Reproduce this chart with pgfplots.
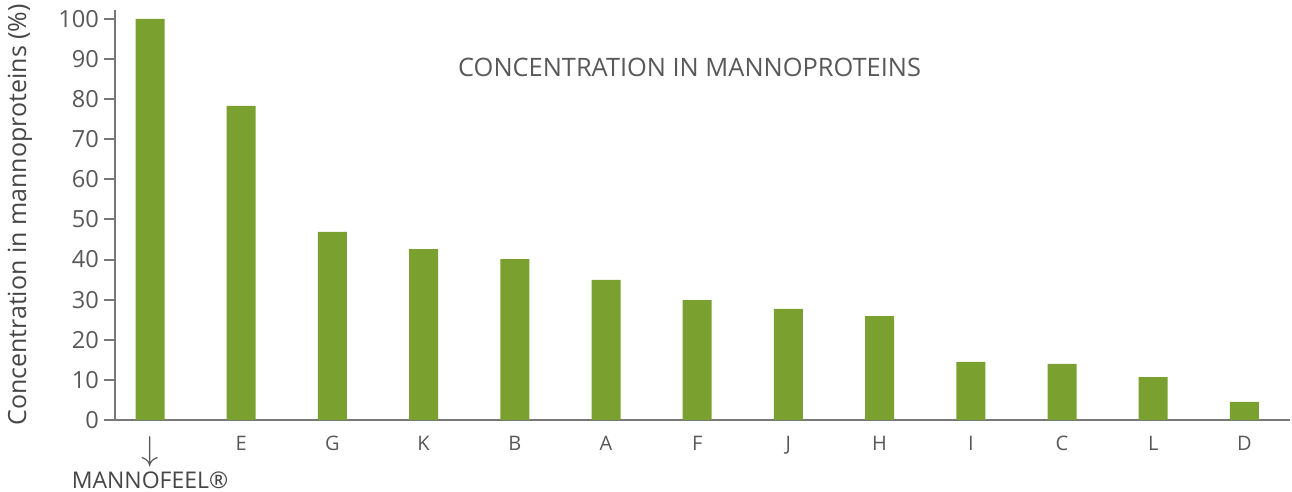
\documentclass[border=0pt]{standalone}
\usepackage{pgfplots}
\pgfplotsset{compat=1.18}
\usepackage{fontspec}
\setmainfont{Open Sans}
\definecolor{bargreen}{RGB}{122,161,47}
\definecolor{txtgray}{RGB}{88,88,88}
\definecolor{darkgray}{RGB}{70,70,70}
\definecolor{axgray}{RGB}{120,120,120}
\begin{document}
\begin{tikzpicture}
\begin{axis}[
  scale only axis,
  width=587.5pt, height=205pt,
  xmin=-0.384, xmax=12.5,
  ymin=0, ymax=102.2,
  axis x line=bottom, axis y line=left,
  axis line style={axgray, line width=1pt, -},
  ytick={0,10,...,100},
  tick align=outside,
  major tick length=5.5pt,
  tick style={axgray, line width=1pt},
  xtick=data,
  xtick style={draw=none},
  xticklabels={{\fontsize{16}{16}\selectfont$\downarrow$\\[2pt]\fontsize{11.5}{12}\selectfont\color{darkgray}MANNOFEEL®},E,G,K,B,A,F,J,H,I,C,L,D},
  xticklabel style={font=\fontsize{10}{12}\selectfont, text=txtgray, align=center, anchor=north, yshift=1pt},
  yticklabel style={font=\fontsize{11.8}{12}\selectfont, text=txtgray, xshift=1pt},
  /pgf/number format/assume math mode=true,
  ylabel={Concentration in mannoproteins (\%)},
  every axis y label/.style={at={(rel axis cs:0,0.5)}, xshift=-47.5pt, rotate=90, anchor=center, font=\fontsize{12.5}{14}\selectfont, text=darkgray},
  clip=false,
]
\addplot[ybar, bar width=14.5pt, fill=bargreen, draw=none] coordinates {
 (0,100) (1,78.3) (2,46.9) (3,42.6) (4,40.1) (5,34.9) (6,29.9)
 (7,27.7) (8,25.9) (9,14.5) (10,14.0) (11,10.7) (12,4.5)};
\node[font=\fontsize{12.7}{14}\selectfont, text=txtgray] at (rel axis cs:0.489,0.859) {CONCENTRATION IN MANNOPROTEINS};
\draw[axgray, line width=1pt] ([xshift=-5.5pt]rel axis cs:0,0) -- (rel axis cs:0,0);
\coordinate (ll) at (rel axis cs:0,0);
\coordinate (ur) at (rel axis cs:1,1);
\end{axis}
\pgfresetboundingbox
\path[use as bounding box] ([shift={(-57.5pt,-36pt)}]ll) rectangle ([shift={(1pt,5pt)}]ur);
\end{tikzpicture}
\end{document}
